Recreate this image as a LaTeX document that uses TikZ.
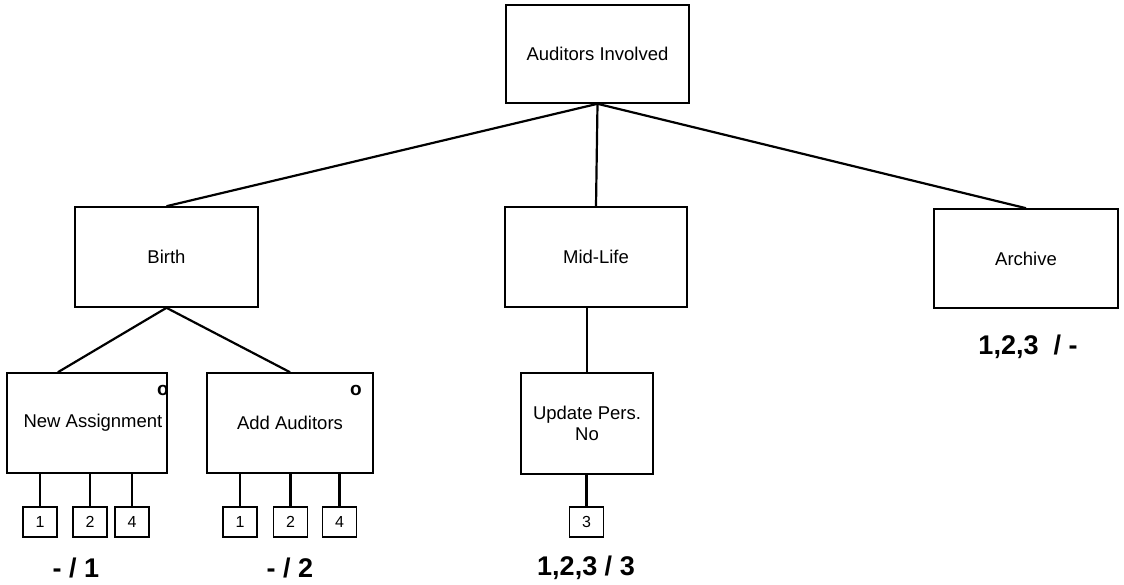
\documentclass[tikz,border=0pt]{standalone}
\usepackage{fontspec}
\setmainfont{Liberation Sans}
\usetikzlibrary{calc}
\begin{document}
\begin{tikzpicture}[x=1pt,y=-1pt,
  box/.style={draw, line width=1.6pt, font=\fontsize{18.5}{21}\selectfont, align=center, inner sep=0pt},
  sbox/.style={draw, line width=1.6pt, minimum width=34pt, minimum height=30pt, font=\fontsize{16}{18}\selectfont, inner sep=0pt},
  conn/.style={line width=2.2pt},
  lbl/.style={font=\fontsize{27}{30}\selectfont\bfseries, inner sep=0pt},
  dot/.style={font=\fontsize{19}{20}\selectfont\bfseries, inner sep=0pt}]
\useasboundingbox (0,0) rectangle (1124,584);
% main boxes
\node[box, minimum width=183pt, minimum height=98pt] (top) at (597.5,54) {Auditors Involved};
\node[box, minimum width=183pt, minimum height=100pt] (birth) at (166.5,257) {Birth};
\node[box, minimum width=182pt, minimum height=100pt] (mid) at (596,257) {Mid-Life};
\node[box, minimum width=184pt, minimum height=99pt] (arch) at (1026,258.5) {Archive};
\node[box, minimum width=160pt, minimum height=100pt] (na) at (87,423) {\hspace*{12pt}New Assignment};
\node[box, minimum width=166pt, minimum height=100pt] (aa) at (290,423) {Add Auditors};
\node[box, minimum width=132pt, minimum height=101pt] (upd) at (587,423.5) {Update Pers.\\No};
% markers
\node[dot] (nao) at (163,390) {o};
\node[dot] (aao) at (356,390) {o};
% small boxes
\node[sbox] (n1) at (40,522) {1};
\node[sbox] (n2) at (90,522) {2};
\node[sbox] (n4) at (132,522) {4};
\node[sbox] (a1) at (240,522) {1};
\node[sbox] (a2) at (290.5,522) {2};
\node[sbox] (a4) at (339.5,522) {4};
\node[sbox] (u3) at (586.5,522) {3};
% labels
\node[lbl] (ln) at (76,568) {- / 1};
\node[lbl] (la) at (290,568) {- / 2};
\node[lbl] (lu) at (586,568) {1,2,3 / 3};
\node[lbl] (lar) at (1028,347) {1,2,3 \ / -};
% connectors
\draw[conn] (top.south) -- (birth.north);
\draw[conn] (top.south) -- (mid.north);
\draw[conn] (top.south) -- (arch.north);
\coordinate (naIn) at ($(na.north west)!0.32!(na.north east)$);
\draw[conn] (birth.south) -- (naIn);
\draw[conn] (birth.south) -- (aa.north);
\draw[conn] (upd.north) -- (upd.north |- mid.south);
\foreach \s in {n1,n2,n4}{\draw[conn] (\s.north) -- (\s.north |- na.south);}
\foreach \s in {a1,a2,a4}{\draw[conn] (\s.north) -- (\s.north |- aa.south);}
\draw[conn] (u3.north) -- (u3.north |- upd.south);
\end{tikzpicture}
\end{document}
